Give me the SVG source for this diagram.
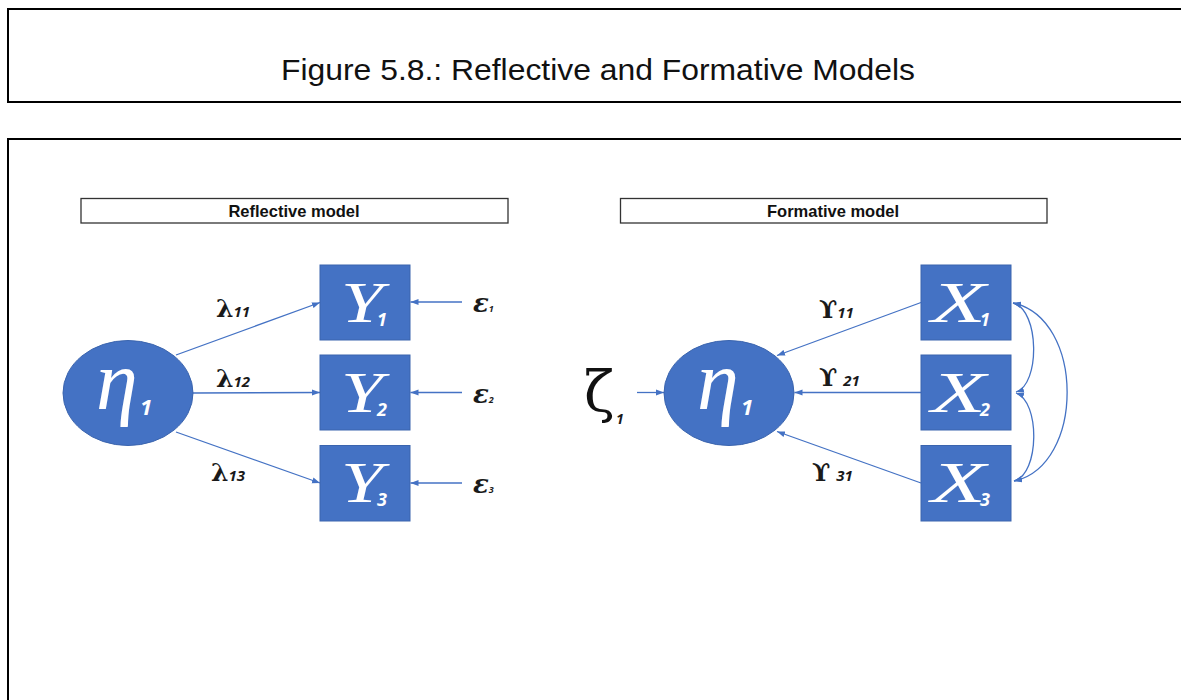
<svg xmlns="http://www.w3.org/2000/svg" width="1181" height="700" viewBox="0 0 1181 700">
<style>
.frame{fill:#fff;stroke:#000;stroke-width:2}
.hdr{fill:#fff;stroke:#333;stroke-width:1.3}
.hdrtxt{font-family:"Liberation Sans",Arial,sans-serif;font-weight:bold;font-size:16.5px;fill:#111;text-anchor:middle}
.node{fill:#4472C4;stroke:#3A64AE;stroke-width:1}
.big{font-family:"Liberation Serif","Times New Roman",serif;font-style:italic;fill:#fff}
.sub{font-family:"Open Sans","DejaVu Sans",sans-serif;font-style:italic;font-weight:bold;fill:#fff}
.lbl{font-family:"DejaVu Serif","Liberation Serif",serif;fill:#1a1a1a}
.lsub{font-family:"Open Sans","DejaVu Sans",sans-serif;font-style:italic;font-weight:bold;fill:#1a1a1a}
.eps{font-family:"DejaVu Serif",serif;font-style:italic;font-weight:bold;fill:#1a1a1a}
.edge{fill:none;stroke:#4472C4;stroke-width:1.3}
</style>
<defs>
<marker id="ah" markerUnits="userSpaceOnUse" markerWidth="9" markerHeight="7" refX="8" refY="3.5" orient="auto">
<path d="M0,0.5 L8,3.5 L0,6.5 Z" fill="#4472C4"/>
</marker>
<marker id="ahs" markerUnits="userSpaceOnUse" markerWidth="9" markerHeight="7" refX="1" refY="3.5" orient="auto">
<path d="M9,0.5 L1,3.5 L9,6.5 Z" fill="#4472C4"/>
</marker>
</defs>
<rect width="1181" height="700" fill="#fff"/>
<g id="title">
<rect class="frame" x="8" y="9" width="1190" height="93"/>
<text x="281" y="80" font-family="Liberation Sans, Arial, sans-serif" font-size="29" fill="#111" textLength="634" lengthAdjust="spacingAndGlyphs">Figure 5.8.: Reflective and Formative Models</text>
</g>
<rect class="frame" x="8" y="139" width="1190" height="600"/>
<g id="hdr-reflective">
<rect class="hdr" x="81" y="198.5" width="427" height="24.5"/>
<text class="hdrtxt" x="294" y="216.5">Reflective model</text>
</g>
<g id="hdr-formative">
<rect class="hdr" x="620.5" y="198.5" width="426.5" height="24.5"/>
<text class="hdrtxt" x="833" y="216.5">Formative model</text>
</g>
<g id="connectors">
<line class="edge" x1="176" y1="355" x2="320" y2="302.5" marker-end="url(#ah)"/>
<line class="edge" x1="193" y1="393" x2="320" y2="392.5" marker-end="url(#ah)"/>
<line class="edge" x1="176" y1="432" x2="320" y2="483" marker-end="url(#ah)"/>
<line class="edge" x1="462" y1="302" x2="410.5" y2="302" marker-end="url(#ah)"/>
<line class="edge" x1="462" y1="392.5" x2="410.5" y2="392.5" marker-end="url(#ah)"/>
<line class="edge" x1="462" y1="483" x2="410.5" y2="483" marker-end="url(#ah)"/>
<line class="edge" x1="921" y1="302.5" x2="777" y2="355.5" marker-end="url(#ah)"/>
<line class="edge" x1="921" y1="392.5" x2="794.5" y2="392.5" marker-end="url(#ah)"/>
<line class="edge" x1="921" y1="483" x2="777" y2="431.5" marker-end="url(#ah)"/>
<line class="edge" x1="637" y1="392.5" x2="664" y2="392.5" marker-end="url(#ah)"/>
<path class="edge" d="M1013,303 C1040,310 1040,385 1016,392" marker-start="url(#ahs)" marker-end="url(#ah)"/>
<path class="edge" d="M1016,393 C1040,401 1040,474 1014,481" marker-start="url(#ahs)" marker-end="url(#ah)"/>
<path class="edge" d="M1013,303 C1085,318 1085,466 1014,481" marker-start="url(#ahs)" marker-end="url(#ah)"/>
</g>
<g id="eta-reflective">
<ellipse class="node" cx="128" cy="393" rx="65" ry="52.5"/>
<text class="big" x="96" y="409" font-size="84">η</text>
<text class="sub" x="140" y="415" font-size="22">1</text>
</g>
<g id="Y1">
<rect class="node" x="320" y="265" width="90" height="75"/>
<text class="big" x="341" y="322" font-size="57" textLength="42" lengthAdjust="spacingAndGlyphs">Y</text>
<text class="sub" x="377" y="326" font-size="18">1</text>
</g>
<g id="Y2">
<rect class="node" x="320" y="355" width="90" height="75"/>
<text class="big" x="341" y="412" font-size="57" textLength="42" lengthAdjust="spacingAndGlyphs">Y</text>
<text class="sub" x="377" y="416" font-size="18">2</text>
</g>
<g id="Y3">
<rect class="node" x="320" y="445.5" width="90" height="75.5"/>
<text class="big" x="341" y="502" font-size="57" textLength="42" lengthAdjust="spacingAndGlyphs">Y</text>
<text class="sub" x="377" y="506" font-size="18">3</text>
</g>
<g id="labels-reflective">
<text x="216" y="317"><tspan class="lbl" font-size="25" font-weight="bold">λ</tspan><tspan class="lsub" font-size="15">11</tspan></text>
<text x="216" y="387"><tspan class="lbl" font-size="25" font-weight="bold">λ</tspan><tspan class="lsub" font-size="15">12</tspan></text>
<text x="211" y="481"><tspan class="lbl" font-size="25" font-weight="bold">λ</tspan><tspan class="lsub" font-size="15">13</tspan></text>
<text x="473" y="312"><tspan class="eps" font-size="26">ε</tspan><tspan class="lsub" font-size="9">1</tspan></text>
<text x="473" y="403"><tspan class="eps" font-size="26">ε</tspan><tspan class="lsub" font-size="9">2</tspan></text>
<text x="473" y="493"><tspan class="eps" font-size="26">ε</tspan><tspan class="lsub" font-size="9">3</tspan></text>
</g>
<g id="eta-formative">
<ellipse class="node" cx="729" cy="393" rx="65" ry="52.5"/>
<text class="big" x="697" y="409" font-size="84">η</text>
<text class="sub" x="741" y="415" font-size="22">1</text>
</g>
<g id="zeta">
<text x="584" y="411" font-family="DejaVu Serif, serif" font-size="56" fill="#111">ζ</text>
<text class="lsub" x="616" y="424" font-size="14">1</text>
</g>
<g id="X1">
<rect class="node" x="921" y="265" width="90" height="75"/>
<text class="big" x="931" y="322" font-size="57" textLength="55" lengthAdjust="spacingAndGlyphs">X</text>
<text class="sub" x="980" y="326" font-size="18">1</text>
</g>
<g id="X2">
<rect class="node" x="921" y="355" width="90" height="75"/>
<text class="big" x="931" y="412" font-size="57" textLength="55" lengthAdjust="spacingAndGlyphs">X</text>
<text class="sub" x="980" y="416" font-size="18">2</text>
</g>
<g id="X3">
<rect class="node" x="921" y="445.5" width="90" height="75.5"/>
<text class="big" x="931" y="502" font-size="57" textLength="55" lengthAdjust="spacingAndGlyphs">X</text>
<text class="sub" x="980" y="506" font-size="18">3</text>
</g>
<g id="labels-formative">
<text x="819" y="318"><tspan class="lbl" font-size="24" font-weight="bold">ϒ</tspan><tspan class="lsub" font-size="15">11</tspan></text>
<text x="819" y="386"><tspan class="lbl" font-size="24" font-weight="bold">ϒ</tspan><tspan class="lsub" font-size="15" dx="6">21</tspan></text>
<text x="812" y="481"><tspan class="lbl" font-size="24" font-weight="bold">ϒ</tspan><tspan class="lsub" font-size="15" dx="6">31</tspan></text>
</g>
</svg>
